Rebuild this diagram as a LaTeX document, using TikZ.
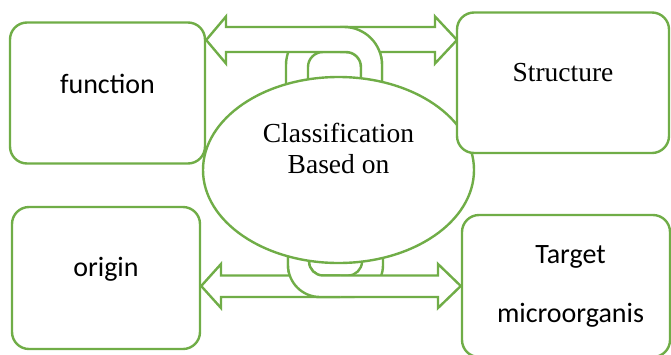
\documentclass[tikz,border=0pt]{standalone}
\usepackage{fontspec}
\setmainfont{Liberation Serif}
\newfontfamily\bodysans{Carlito}
\usetikzlibrary{shapes.geometric}
\definecolor{linkgreen}{RGB}{112,173,71}

\begin{document}
\begin{tikzpicture}[
  x=1pt, y=-1pt,
  box/.style={rectangle, rounded corners=17pt, draw=linkgreen, line width=2.4pt,
              fill=white, inner sep=0pt},
  hub/.style={ellipse, draw=linkgreen, line width=2.4pt, fill=white, inner sep=0pt,
              minimum width=271pt, minimum height=186pt},
  chainlink/.style={draw=linkgreen, line width=2.4pt, fill=white, even odd rule},
  blockarrow/.style={draw=linkgreen, line width=2.4pt, fill=white, line join=miter},
  sanstxt/.style={font=\bodysans\fontsize{28}{59}\selectfont, align=center, inner sep=0pt},
  seriftxt/.style={font=\fontsize{27.5}{31}\selectfont, align=center, inner sep=0pt}
]
\useasboundingbox (0,0) rectangle (671,354);

% Boxes round the hub
\node[box, minimum width=195pt, minimum height=141pt] (fn) at (107.5,93) {};
\node[box, minimum width=188pt, minimum height=142pt] (og) at (106,278) {};
\node[box, minimum width=208pt, minimum height=142pt] (tg) at (566,286) {};

% Rows of the two block arrows
\coordinate (toprow) at (0,40);
\coordinate (botrow) at (0,286);

% Top link, then top arrow, then the part of the link that lies over it
\draw[chainlink] (286,100) -- (286,65) arc[start angle=180, end angle=90, radius=38pt]
  -- (344,27) arc[start angle=90, end angle=0, radius=38pt] -- (382,100) -- cycle
  (308,100) -- (308,67) arc[start angle=180, end angle=90, radius=15pt]
  -- (346,52) arc[start angle=90, end angle=0, radius=15pt] -- (361,100) -- cycle;
\draw[blockarrow] (fn.east |- toprow) -- (226,16.5) -- (226,27) -- (435,27) -- (435,16.5)
  -- (457,40) -- (435,63.5) -- (435,52) -- (226,52) -- (226,63.5) -- cycle;
\begin{scope}
\clip (340,0) rectangle (671,120);
\draw[chainlink] (286,100) -- (286,65) arc[start angle=180, end angle=90, radius=38pt]
  -- (344,27) arc[start angle=90, end angle=0, radius=38pt] -- (382,100) -- cycle
  (308,100) -- (308,67) arc[start angle=180, end angle=90, radius=15pt]
  -- (346,52) arc[start angle=90, end angle=0, radius=15pt] -- (361,100) -- cycle;
\end{scope}

% Bottom link and bottom arrow
\draw[chainlink] (288,240) -- (288,265) arc[start angle=180, end angle=270, radius=32pt]
  -- (351,297) arc[start angle=270, end angle=360, radius=32pt] -- (383,240) -- cycle
  (309,240) -- (309,261.5) arc[start angle=180, end angle=270, radius=14pt]
  -- (348,275.5) arc[start angle=270, end angle=360, radius=14pt] -- (362,240) -- cycle;
\draw[blockarrow] (og.east |- botrow) -- (221,264) -- (221,275.5) -- (438,275.5) -- (438,264)
  -- (tg.west |- botrow) -- (438,308) -- (438,297) -- (221,297) -- (221,308) -- cycle;
\begin{scope}
\clip (0,230) rectangle (340,354);
\draw[chainlink] (288,240) -- (288,265) arc[start angle=180, end angle=270, radius=32pt]
  -- (351,297) arc[start angle=270, end angle=360, radius=32pt] -- (383,240) -- cycle
  (309,240) -- (309,261.5) arc[start angle=180, end angle=270, radius=14pt]
  -- (348,275.5) arc[start angle=270, end angle=360, radius=14pt] -- (362,240) -- cycle;
\end{scope}

% Hub, with the Structure box lying over it
\node[hub] (cl) at (338.5,170) {};
\node[box, minimum width=212pt, minimum height=140.5pt] (st) at (563,82.75) {};

% Texts
\node[sanstxt, anchor=base] (fntxt) at (fn.center) {function};
\node[seriftxt, anchor=base] (sttxt) at ([yshift=1pt]st.center) {Structure};
\node[seriftxt] (cltxt) at ([yshift=21.4pt]cl.center) {Classification\\Based on};
\node[sanstxt, anchor=base] (ogtxt) at ([yshift=1.3pt]og.center) {origin};
\node[sanstxt] (tgtxt) at ([xshift=4.5pt]tg.center) {Target\\microorganis};

\end{tikzpicture}
\end{document}
